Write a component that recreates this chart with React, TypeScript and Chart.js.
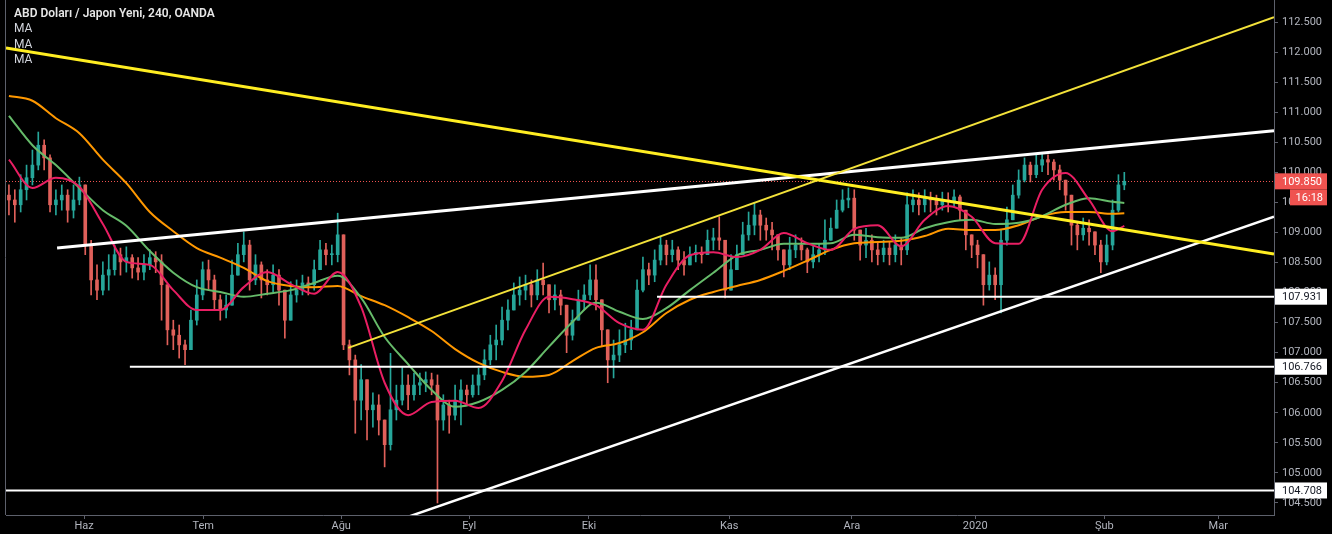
import React, { useEffect, useRef } from 'react';
import { Chart, registerables } from 'chart.js';

Chart.register(...registerables);

// ---------- text ----------
const chartTitle = 'ABD Doları / Japon Yeni, 240, OANDA';
const maLegend = ['MA', 'MA', 'MA'];
const countdownText = '16:18';

// ---------- axes ----------
const monthLabels = ['Haz', 'Tem', 'Ağu', 'Eyl', 'Eki', 'Kas', 'Ara', '2020', 'Şub', 'Mar'];
// trading-day index where each month label sits
const monthDays = [13.3, 33.6, 57.1, 78.9, 99.3, 123.2, 144.1, 165.1, 187.1, 206.5];
const priceTicks = [104.5, 105, 105.5, 106, 106.5, 107, 107.5, 108, 108.5, 109, 109.5, 110, 110.5, 111, 111.5, 112, 112.5];
const dayMin = 0;
const dayMax = 216;
const priceMin = 104.3;
const priceMax = 112.866;

// ---------- candles (one per trading day, open = previous close) ----------
const firstOpen = 109.62;
const closes = [
  109.54, 109.46, 109.71, 109.91, 110.12, 110.45, 110.24, 109.46, 109.54, 109.62,
  109.37, 109.54, 109.79, 108.79, 108.21, 108.04, 108.29, 108.38, 108.63, 108.51,
  108.58, 108.41, 108.34, 108.46, 108.58, 108.51, 108.13, 107.38, 107.29, 107.13,
  107.05, 107.54, 107.96, 108.38, 108.21, 107.88, 107.71, 107.79, 108.29, 108.63,
  108.79, 108.21, 108.46, 108.21, 108.13, 108.29, 108.04, 107.54, 107.96, 108.04,
  108.16, 108.13, 108.38, 108.71, 108.63, 108.63, 108.96, 107.13, 106.88, 106.21,
  106.55, 106.05, 106.13, 105.88, 105.47, 106.05, 106.21, 106.46, 106.30, 106.46,
  106.50, 106.55, 106.46, 105.88, 106.13, 105.96, 106.21, 106.38, 106.30, 106.46,
  106.63, 106.88, 107.13, 107.21, 107.54, 107.71, 107.96, 108.04, 108.13, 107.96,
  108.21, 108.13, 107.88, 107.96, 107.79, 107.29, 107.54, 107.88, 107.96, 108.21,
  107.88, 107.38, 106.88, 106.96, 107.13, 107.21, 107.38, 108.04, 108.38, 108.29,
  108.54, 108.79, 108.63, 108.71, 108.54, 108.46, 108.63, 108.67, 108.63, 108.87,
  108.91, 108.87, 108.04, 108.38, 108.63, 108.96, 109.12, 109.29, 109.12, 109.04,
  108.96, 108.71, 108.46, 108.71, 108.79, 108.71, 108.51, 108.63, 108.71, 108.87,
  109.07, 109.37, 109.54, 109.57, 109.04, 108.79, 108.87, 108.71, 108.63, 108.74,
  108.63, 108.79, 108.71, 109.46, 109.54, 109.46, 109.57, 109.54, 109.46, 109.54,
  109.51, 109.59, 109.37, 108.96, 108.79, 108.63, 108.13, 108.29, 108.13, 108.87,
  109.21, 109.62, 109.87, 110.12, 109.96, 110.12, 110.21, 110.17, 110.04, 109.87,
  109.62, 109.12, 108.96, 109.07, 109.01, 108.79, 108.51, 108.79, 109.37, 109.79, 109.85,
];
const highs = [
  109.79, 109.71, 109.96, 110.12, 110.37, 110.67, 110.54, 110.29, 109.71, 109.79,
  109.71, 109.79, 109.92, 109.79, 108.87, 108.46, 108.51, 108.63, 108.79, 108.74,
  108.76, 108.63, 108.58, 108.63, 108.71, 108.68, 108.63, 107.63, 107.54, 107.46,
  107.21, 107.71, 108.21, 108.51, 108.54, 108.29, 107.96, 107.96, 108.54, 108.82,
  109.01, 108.87, 108.63, 108.51, 108.38, 108.46, 108.38, 107.96, 108.18, 108.21,
  108.29, 108.26, 108.54, 108.87, 108.82, 108.79, 109.32, 108.87, 107.21, 106.96,
  106.80, 106.55, 106.33, 106.30, 105.80, 106.99, 106.46, 106.76, 106.63, 106.66,
  106.66, 106.68, 106.66, 106.63, 106.30, 106.21, 106.46, 106.55, 106.46, 106.63,
  106.74, 107.05, 107.29, 107.46, 107.76, 107.88, 108.16, 108.26, 108.29, 108.21,
  108.38, 108.49, 108.13, 108.13, 108.04, 107.79, 107.71, 108.04, 108.13, 108.46,
  108.46, 107.79, 107.21, 107.21, 107.38, 107.49, 107.54, 108.21, 108.59, 108.49,
  108.71, 108.92, 108.87, 108.87, 108.76, 108.68, 108.76, 108.79, 108.76, 109.04,
  109.07, 109.26, 108.79, 108.63, 108.79, 109.17, 109.34, 109.49, 109.37, 109.24,
  109.17, 108.92, 108.71, 108.92, 108.96, 108.91, 108.74, 108.79, 108.82, 109.21,
  109.24, 109.54, 109.71, 109.74, 109.71, 109.04, 109.07, 108.96, 108.84, 108.87,
  108.84, 108.96, 108.91, 109.66, 109.71, 109.66, 109.71, 109.67, 109.62, 109.67,
  109.66, 109.71, 109.62, 109.37, 108.96, 108.87, 108.63, 108.51, 108.41, 109.04,
  109.42, 109.79, 110.04, 110.24, 110.17, 110.29, 110.32, 110.29, 110.21, 110.12,
  109.87, 109.62, 109.17, 109.24, 109.21, 109.01, 108.87, 108.96, 109.54, 109.96, 110.00,
];
const lows = [
  109.29, 109.17, 109.34, 109.54, 109.79, 110.04, 110.04, 109.34, 109.29, 109.37,
  109.17, 109.24, 109.46, 108.63, 107.96, 107.88, 107.96, 108.04, 108.29, 108.29,
  108.34, 108.24, 108.21, 108.21, 108.38, 108.33, 107.54, 107.13, 107.05, 106.91,
  106.80, 107.13, 107.46, 107.88, 108.04, 107.71, 107.54, 107.58, 107.88, 108.29,
  108.51, 108.04, 108.13, 107.91, 107.96, 108.01, 107.79, 107.24, 107.54, 107.84,
  107.96, 107.96, 108.04, 108.46, 108.46, 108.46, 108.51, 107.05, 106.63, 105.66,
  105.88, 105.55, 105.76, 105.63, 105.10, 105.38, 105.88, 106.13, 106.05, 106.21,
  106.30, 106.35, 106.30, 104.50, 105.71, 105.66, 105.88, 105.80, 106.13, 106.26,
  106.30, 106.55, 106.80, 106.88, 107.13, 107.38, 107.71, 107.79, 107.88, 107.76,
  107.88, 107.96, 107.66, 107.71, 107.63, 107.00, 107.21, 107.63, 107.71, 107.88,
  107.71, 107.10, 106.50, 106.58, 106.85, 107.00, 107.05, 107.38, 108.01, 108.13,
  108.18, 108.46, 108.46, 108.51, 108.38, 108.29, 108.46, 108.51, 108.49, 108.63,
  108.71, 108.71, 107.91, 108.04, 108.38, 108.63, 108.87, 108.96, 108.87, 108.87,
  108.71, 108.54, 108.26, 108.38, 108.58, 108.54, 108.33, 108.41, 108.51, 108.63,
  108.87, 109.12, 109.34, 109.41, 108.87, 108.54, 108.58, 108.51, 108.46, 108.51,
  108.46, 108.51, 108.46, 108.63, 109.34, 109.29, 109.34, 109.34, 109.29, 109.37,
  109.34, 109.42, 109.21, 108.71, 108.58, 108.41, 107.79, 108.04, 107.88, 107.66,
  108.79, 109.21, 109.57, 109.84, 109.84, 109.91, 110.01, 109.96, 109.87, 109.71,
  109.37, 108.79, 108.71, 108.87, 108.79, 108.63, 108.33, 108.46, 108.71, 109.34, 109.71,
];

// ---------- moving averages (sampled at candle indices) ----------
const maDays = [
  0, 4, 8, 12, 16, 20, 24, 28, 32, 36, 40, 44, 48, 52, 56, 60, 64, 68, 72, 76, 80, 84, 88, 92, 96,
  100, 104, 108, 112, 116, 120, 124, 128, 132, 136, 140, 144, 148, 152, 156, 160, 164, 168, 172,
  176, 180, 184, 188, 190,
];
const maFast = [
  110.21, 109.74, 109.91, 109.76, 109.14, 108.51, 108.46, 108.04, 107.71, 107.71,
  108.09, 108.34, 108.14, 107.98, 108.34, 107.76, 106.50, 105.96, 106.18, 106.20,
  106.08, 106.53, 107.38, 107.93, 107.89, 107.79, 107.49, 107.38, 108.13, 108.62,
  108.67, 108.59, 108.71, 108.99, 108.82, 108.71, 109.06, 109.12, 108.77, 109.21,
  109.44, 109.26, 108.82, 108.81, 109.71, 109.99, 109.54, 109.02, 109.11,
];
const maMid = [
  110.94, 110.45, 110.12, 109.74, 109.37, 109.11, 108.69, 108.33, 108.09, 108.01,
  107.93, 107.98, 108.04, 108.16, 108.28, 107.91, 107.26, 106.81, 106.38, 106.10,
  106.18, 106.38, 106.68, 107.10, 107.51, 107.83, 107.68, 107.56, 107.74, 108.04,
  108.33, 108.62, 108.71, 108.81, 108.81, 108.82, 108.96, 108.92, 108.91, 109.07,
  109.17, 109.21, 109.14, 109.16, 109.27, 109.46, 109.57, 109.51, 109.49,
];
const maSlow = [
  111.27, 111.19, 110.90, 110.65, 110.21, 109.82, 109.34, 109.02, 108.74, 108.58,
  108.41, 108.19, 108.11, 108.09, 108.11, 107.94, 107.79, 107.59, 107.36, 107.06,
  106.83, 106.68, 106.60, 106.63, 106.86, 107.08, 107.16, 107.34, 107.66, 107.88,
  108.01, 108.11, 108.21, 108.36, 108.53, 108.71, 108.82, 108.84, 108.86, 108.94,
  109.06, 109.04, 109.04, 109.12, 109.27, 109.34, 109.34, 109.31, 109.32,
];

// ---------- drawings ----------
const levelPrices = [107.931, 106.766, 104.708];
const levelStartDays = [110.9, 21.1, 0];
const lastPrice = 109.85;

const trendStartDays = [0, 58.3, 8.7, 68.5];
const trendStartPrices = [112.07, 107.08, 108.74, 104.27];
const trendEndDays = [216, 216, 216, 216];
const trendEndPrices = [108.64, 112.58, 110.69, 109.26];

// ---------- styles ----------
const FONT = 'Roboto, "Liberation Sans", sans-serif';
const UP = '#26a69a';
const DOWN = '#e0605a';
const MA_COLORS = ['#e91e63', '#66bb6a', '#ff9800'];
const TREND_COLORS = ['#ffee22', '#f3e23a', '#ffffff', '#ffffff'];
const TREND_WIDTHS = [3, 2, 3, 2.5];
const AXIS_COLOR = '#5d606b';
const TEXT_COLOR = '#b2b5be';
const RED = '#ef5350';

export default function App() {
  const ref = useRef<HTMLCanvasElement | null>(null);

  useEffect(() => {
    document.body.style.margin = '0';
    document.body.style.background = '#000';
    const canvas = ref.current;
    if (!canvas) return;

    const candleOffset = 0.5;
    const opens = closes.map((_, i) => (i === 0 ? firstOpen : closes[i - 1]));
    const candleColors = closes.map((c, i) => (c >= opens[i] ? UP : DOWN));
    const wickData = closes.map((c, i) => ({
      x: i + candleOffset,
      y: [Math.min(lows[i], opens[i], c), Math.max(highs[i], opens[i], c)],
    }));
    const bodyData = closes.map((c, i) => ({ x: i + candleOffset, y: [opens[i], c] }));

    const maSets = [maFast, maMid, maSlow].map((vals, k) => ({
      type: 'line' as const,
      data: maDays.map((d, i) => ({ x: d + candleOffset, y: vals[i] })),
      borderColor: MA_COLORS[k],
      borderWidth: 2,
      pointRadius: 0,
      cubicInterpolationMode: 'monotone' as const,
      order: 2,
    }));

    const levelSets = levelPrices.map((p, i) => ({
      type: 'line' as const,
      data: [
        { x: levelStartDays[i], y: p },
        { x: dayMax, y: p },
      ],
      borderColor: '#ffffff',
      borderWidth: 2,
      pointRadius: 0,
      order: 1,
    }));

    const trendSets = trendStartDays.map((d, i) => ({
      type: 'line' as const,
      data: [
        { x: d, y: trendStartPrices[i] },
        { x: trendEndDays[i], y: trendEndPrices[i] },
      ],
      borderColor: TREND_COLORS[i],
      borderWidth: TREND_WIDTHS[i],
      pointRadius: 0,
      order: 0,
    }));

    const overlay = {
      id: 'overlay',
      beforeDraw(chart: any) {
        const { ctx, width, height } = chart;
        ctx.save();
        ctx.fillStyle = '#000';
        ctx.fillRect(0, 0, width, height);
        ctx.restore();
      },
      beforeDatasetsDraw(chart: any) {
        const { ctx, chartArea } = chart;
        const y = Math.round(chart.scales.y.getPixelForValue(lastPrice)) + 0.5;
        ctx.save();
        ctx.strokeStyle = RED;
        ctx.lineWidth = 1;
        ctx.setLineDash([1, 2]);
        ctx.beginPath();
        ctx.moveTo(chartArea.left, y);
        ctx.lineTo(chartArea.right, y);
        ctx.stroke();
        ctx.restore();
      },
      afterDraw(chart: any) {
        const { ctx, chartArea, width } = chart;
        const ys = chart.scales.y;
        ctx.save();
        // left pane border
        ctx.strokeStyle = AXIS_COLOR;
        ctx.lineWidth = 1;
        ctx.beginPath();
        ctx.moveTo(chartArea.left - 0.5, 0);
        ctx.lineTo(chartArea.left - 0.5, chartArea.bottom);
        ctx.stroke();

        // legend
        ctx.textBaseline = 'middle';
        ctx.textAlign = 'left';
        ctx.fillStyle = '#e6e6e6';
        ctx.font = `600 12px ${FONT}`;
        ctx.fillText(chartTitle, 14, 14);
        ctx.font = `12px ${FONT}`;
        ctx.fillStyle = '#d1d4dc';
        maLegend.forEach((t, i) => ctx.fillText(t, 14, 29 + i * 15.5));

        // level labels
        ctx.font = `11px ${FONT}`;
        const boxL = chartArea.right + 1;
        const boxW = width - 5 - boxL;
        levelPrices.forEach((p) => {
          const y = ys.getPixelForValue(p);
          ctx.fillStyle = '#ffffff';
          ctx.fillRect(boxL, y - 8, boxW, 16);
          ctx.fillStyle = '#131722';
          ctx.fillText(p.toFixed(3), chartArea.right + 8, y + 0.5);
        });
        // last price label
        const yl = ys.getPixelForValue(lastPrice);
        ctx.fillStyle = RED;
        ctx.fillRect(boxL, yl - 8, boxW, 16);
        ctx.fillRect(chartArea.right + 16, yl + 8, width - 5 - (chartArea.right + 16), 16);
        ctx.fillStyle = '#ffffff';
        ctx.fillText(lastPrice.toFixed(3), chartArea.right + 8, yl + 0.5);
        ctx.textAlign = 'right';
        ctx.fillText(countdownText, width - 9, yl + 16.5);
        ctx.restore();
      },
    };

    const chart = new Chart(canvas, {
      type: 'bar',
      data: {
        datasets: [
          ...trendSets,
          ...levelSets,
          ...maSets,
          {
            type: 'bar',
            data: bodyData as any,
            backgroundColor: candleColors,
            barThickness: 3,
            minBarLength: 1,
            grouped: false,
            order: 3,
          } as any,
          {
            type: 'bar',
            data: wickData as any,
            backgroundColor: candleColors,
            barThickness: 1,
            grouped: false,
            order: 4,
          } as any,
        ],
      },
      options: {
        responsive: false,
        maintainAspectRatio: false,
        animation: false,
        events: [],
        layout: { autoPadding: false, padding: { left: 6, top: 0, right: 0, bottom: 0 } },
        plugins: { legend: { display: false }, tooltip: { enabled: false } },
        scales: {
          x: {
            type: 'linear',
            min: dayMin,
            max: dayMax,
            offset: false,
            afterBuildTicks: (s: any) => {
              s.ticks = monthDays.map((v) => ({ value: v }));
            },
            afterFit: (s: any) => {
              s.height = 19;
              s.paddingLeft = 0;
              s.paddingRight = 0;
              s.paddingTop = 0;
              s.paddingBottom = 0;
            },
            grid: { drawOnChartArea: false, tickLength: 4, color: AXIS_COLOR, offset: false },
            border: { display: true, color: AXIS_COLOR },
            ticks: {
              color: TEXT_COLOR,
              font: { size: 11, family: FONT },
              padding: 1,
              maxRotation: 0,
              autoSkip: false,
              callback: (_v: any, i: number) => monthLabels[i],
            },
          },
          y: {
            type: 'linear',
            position: 'right',
            min: priceMin,
            max: priceMax,
            afterBuildTicks: (s: any) => {
              s.ticks = priceTicks.map((v) => ({ value: v }));
            },
            afterFit: (s: any) => {
              s.width = 58;
              s.paddingLeft = 0;
              s.paddingRight = 0;
              s.paddingTop = 0;
              s.paddingBottom = 0;
            },
            grid: { drawOnChartArea: false, tickLength: 4, color: AXIS_COLOR },
            border: { display: true, color: AXIS_COLOR },
            ticks: {
              color: TEXT_COLOR,
              font: { size: 11, family: FONT },
              padding: 4,
              callback: (v: any) => Number(v).toFixed(3),
            },
          },
        },
      },
      plugins: [overlay],
    } as any);

    return () => chart.destroy();
  }, []);

  return (
    <div style={{ width: 1332, height: 534, background: '#000' }}>
      <canvas ref={ref} width={1332} height={534} style={{ display: 'block' }} />
    </div>
  );
}
